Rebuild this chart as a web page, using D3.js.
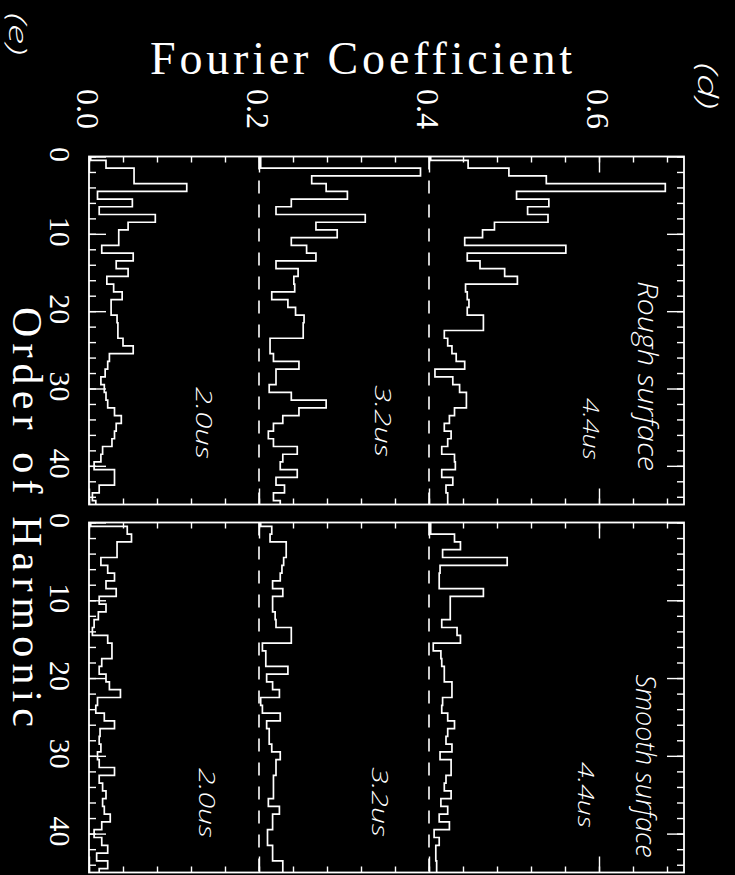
<!DOCTYPE html>
<html><head><meta charset="utf-8">
<script src="https://cdn.jsdelivr.net/npm/d3@7/dist/d3.min.js"></script>
<style>html,body{margin:0;padding:0;background:#000;} svg{display:block}</style>
</head><body>
<svg id="c" width="735" height="875"></svg>
<script>
// ---------- data ----------
const harmonics = d3.range(0, 46);            // order of harmonic 0..45
const coefTicks = [0.0, 0.2, 0.4, 0.6];
const coefTickLabels = ["0.0", "0.2", "0.4", "0.6"];
const harmTicks = [0, 10, 20, 30, 40];
const harmTickLabels = ["0", "10", "20", "30", "40"];
const seriesLabels = ["2.0us", "3.2us", "4.4us"];
const seriesOffsets = [0.0, 0.2, 0.4];        // baselines (dashed lines)
const panelTitles = ["Rough surface", "Smooth surface"];

const rough20 = [0.002,0.020,0.053,0.053,0.115,0.010,0.051,0.012,0.078,0.046,
  0.035,0.035,0.015,0.052,0.032,0.046,0.021,0.029,0.039,0.026,
  0.026,0.033,0.034,0.034,0.040,0.052,0.024,0.022,0.019,0.014,
  0.018,0.020,0.022,0.030,0.038,0.032,0.030,0.027,0.016,0.014,
  0.006,0.030,0.030,0.012,0.004,0.008];
const rough32 = [0.002,0.002,0.190,0.062,0.079,0.104,0.038,0.020,0.125,0.067,
  0.092,0.038,0.056,0.067,0.020,0.046,0.041,0.042,0.015,0.034,
  0.043,0.053,0.052,0.052,0.013,0.013,0.017,0.047,0.020,0.020,
  0.012,0.038,0.079,0.047,0.028,0.017,0.011,0.017,0.045,0.028,
  0.025,0.045,0.020,0.030,0.017,0.025];
const rough44 = [0.002,0.046,0.094,0.138,0.278,0.103,0.141,0.116,0.140,0.077,
  0.063,0.042,0.161,0.045,0.060,0.089,0.104,0.043,0.045,0.047,
  0.045,0.064,0.064,0.018,0.022,0.027,0.032,0.042,0.007,0.028,
  0.036,0.044,0.044,0.030,0.024,0.018,0.026,0.022,0.015,0.030,
  0.031,0.015,0.028,0.020,0.022,0.022];
const smooth20 = [0.002,0.045,0.050,0.033,0.033,0.014,0.022,0.030,0.020,0.032,
  0.012,0.020,0.011,0.006,0.004,0.022,0.027,0.027,0.015,0.012,
  0.020,0.024,0.037,0.010,0.008,0.018,0.030,0.013,0.012,0.014,
  0.010,0.012,0.030,0.012,0.016,0.020,0.016,0.018,0.025,0.015,
  0.006,0.015,0.022,0.009,0.022,0.012];
const smooth32 = [0.002,0.015,0.013,0.032,0.032,0.029,0.027,0.025,0.016,0.028,
  0.016,0.016,0.019,0.020,0.038,0.038,0.004,0.008,0.008,0.034,
  0.009,0.016,0.024,0.002,0.004,0.025,0.009,0.012,0.012,0.015,
  0.025,0.020,0.020,0.017,0.017,0.017,0.011,0.024,0.016,0.016,
  0.010,0.010,0.016,0.016,0.028,0.028];
const smooth44 = [0.002,0.002,0.030,0.037,0.016,0.092,0.013,0.012,0.012,0.064,
  0.025,0.025,0.025,0.015,0.033,0.037,0.005,0.014,0.015,0.018,
  0.018,0.027,0.027,0.016,0.015,0.022,0.030,0.022,0.020,0.027,
  0.013,0.026,0.026,0.020,0.018,0.026,0.014,0.022,0.012,0.024,
  0.006,0.012,0.008,0.008,0.009,0.009];

// ---------- layout ----------
const W = 735, H = 875;
const svg = d3.select("#c");
svg.append("rect").attr("width", W).attr("height", H).attr("fill", "#000");

const x = d3.scaleLinear().domain([0, 0.7]).range([89, 684]);
const panels = [
  { series: [rough20, rough32, rough44], y: d3.scaleLinear().domain([0, 45]).range([156.5, 504.5]) },
  { series: [smooth20, smooth32, smooth44], y: d3.scaleLinear().domain([0, 45]).range([522.5, 872.5]) }
];

const serif = "'Liberation Serif', 'DejaVu Serif', serif";
const hand = "'Open Sans', 'DejaVu Sans', sans-serif";
const stroke = "#fff";

function styleAxis(g) {
  g.selectAll(".domain").remove();
  g.selectAll("line").attr("stroke", stroke).attr("stroke-width", 1.4);
  g.selectAll("text").remove();
}

const minorCoef = d3.range(0, 0.7001, 0.04);
const minorHarm = d3.range(0, 45, 2);

panels.forEach((p, pi) => {
  const y = p.y;
  const g = svg.append("g");
  const [y0, y1] = y.range();

  // dashed baselines
  g.selectAll("line.base").data(seriesOffsets.slice(1)).join("line")
    .attr("x1", d => x(d)).attr("x2", d => x(d))
    .attr("y1", y(0)).attr("y2", y(45))
    .attr("stroke", stroke).attr("stroke-width", 1.6)
    .attr("stroke-dasharray", "13,11");

  // step traces (histogram mode)
  p.series.forEach((vals, si) => {
    const off = seriesOffsets[si];
    const pts = [];
    harmonics.forEach((h, i) => {
      const xv = x(vals[i] + off);
      const a = Math.max(0, h - 0.5), b = Math.min(45, h + 0.5);
      pts.push([xv, y(a)]);
      pts.push([xv, y(b)]);
    });
    g.append("path").attr("d", d3.line()(pts))
      .attr("fill", "none").attr("stroke", stroke).attr("stroke-width", 1.7)
      .attr("stroke-linejoin", "miter");
  });

  // ticks on the coefficient axis (top & bottom edges)
  g.append("g").attr("transform", `translate(0,${y0})`)
    .call(d3.axisTop(x).tickValues(minorCoef).tickSizeInner(-6).tickSizeOuter(0)).call(styleAxis);
  g.append("g").attr("transform", `translate(0,${y0})`)
    .call(d3.axisTop(x).tickValues(coefTicks).tickSizeInner(-16).tickSizeOuter(0)).call(styleAxis);
  g.append("g").attr("transform", `translate(0,${y1})`)
    .call(d3.axisBottom(x).tickValues(minorCoef).tickSizeInner(-6).tickSizeOuter(0)).call(styleAxis);
  g.append("g").attr("transform", `translate(0,${y1})`)
    .call(d3.axisBottom(x).tickValues(coefTicks).tickSizeInner(-16).tickSizeOuter(0)).call(styleAxis);

  // ticks on the harmonic axis (left & right edges)
  g.append("g").attr("transform", `translate(${x(0)},0)`)
    .call(d3.axisLeft(y).tickValues(minorHarm).tickSizeInner(-7).tickSizeOuter(0)).call(styleAxis);
  g.append("g").attr("transform", `translate(${x(0)},0)`)
    .call(d3.axisLeft(y).tickValues(harmTicks).tickSizeInner(-17).tickSizeOuter(0)).call(styleAxis);
  g.append("g").attr("transform", `translate(${x(0.7)},0)`)
    .call(d3.axisRight(y).tickValues(minorHarm).tickSizeInner(-7).tickSizeOuter(0)).call(styleAxis);
  g.append("g").attr("transform", `translate(${x(0.7)},0)`)
    .call(d3.axisRight(y).tickValues(harmTicks).tickSizeInner(-17).tickSizeOuter(0)).call(styleAxis);

  // frame
  g.append("rect").attr("x", x(0)).attr("y", y0).attr("width", x(0.7) - x(0)).attr("height", y1 - y0)
    .attr("fill", "none").attr("stroke", stroke).attr("stroke-width", 1.8);

  // harmonic tick labels (rotated)
  g.selectAll("text.hl").data(harmTicks).join("text")
    .attr("transform", d => `translate(50,${y(d) - 2}) rotate(90)`)
    .attr("text-anchor", "middle").attr("fill", stroke)
    .attr("font-family", serif).attr("font-size", 30)
    .text((d, i) => harmTickLabels[i]);
});

// coefficient tick labels (rotated)
svg.selectAll("text.cl").data(coefTicks).join("text")
  .attr("transform", d => `translate(${x(d) - 12},109) rotate(90)`)
  .attr("text-anchor", "middle").attr("fill", stroke)
  .attr("font-family", serif).attr("font-size", 32)
  .text((d, i) => coefTickLabels[i]);

// axis titles
svg.append("text").attr("x", 150).attr("y", 74)
  .attr("fill", stroke).attr("font-family", serif).attr("font-size", 46)
  .attr("textLength", 422).attr("lengthAdjust", "spacing")
  .text("Fourier Coefficient");
svg.append("text").attr("transform", "translate(13,517) rotate(90)")
  .attr("text-anchor", "middle")
  .attr("fill", stroke).attr("font-family", serif).attr("font-size", 42)
  .attr("textLength", 420).attr("lengthAdjust", "spacing")
  .text("Order of Harmonic");

// handwritten annotations
const notes = [
  { t: "(e)", x: 9, y: 34, fs: 26, len: 42 },
  { t: "(d)", x: 698, y: 86, fs: 28, len: 46 },
  { t: panelTitles[0], x: 638, y: 376, fs: 28, len: 190 },
  { t: seriesLabels[2], x: 583, y: 429, fs: 22, len: 62 },
  { t: seriesLabels[1], x: 375, y: 421, fs: 22, len: 72 },
  { t: seriesLabels[0], x: 196, y: 423, fs: 22, len: 72 },
  { t: panelTitles[1], x: 636, y: 766, fs: 28, len: 183 },
  { t: seriesLabels[2], x: 578, y: 795, fs: 22, len: 66 },
  { t: seriesLabels[1], x: 372, y: 802, fs: 22, len: 70 },
  { t: seriesLabels[0], x: 199, y: 803, fs: 22, len: 70 }
];
svg.selectAll("text.note").data(notes).join("text")
  .attr("transform", d => `translate(${d.x},${d.y}) rotate(90)`)
  .attr("text-anchor", "middle").attr("fill", stroke)
  .attr("font-family", hand).attr("font-weight", 300).attr("font-style", "italic")
  .attr("font-size", d => d.fs)
  .attr("textLength", d => d.len).attr("lengthAdjust", "spacingAndGlyphs")
  .text(d => d.t);
</script>
</body></html>
